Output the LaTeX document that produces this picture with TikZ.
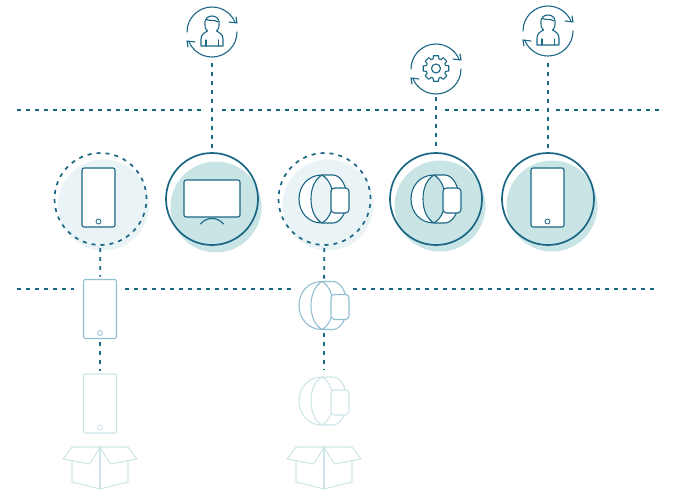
\documentclass[tikz,border=0pt]{standalone}
\usetikzlibrary{calc}
\definecolor{ink}{HTML}{1A6785}
\definecolor{discmid}{HTML}{C9E4E5}
\definecolor{disclight}{HTML}{EAF4F6}
\definecolor{fadeone}{HTML}{93BFD2}
\definecolor{fadetwo}{HTML}{CFE6E8}
\tikzset{
  dashline/.style={draw=ink,line width=1.8pt,dash pattern=on 4pt off 5pt},
  conn/.style={dashline,shorten >=3pt,shorten <=3pt},
  solidring/.style={circle,draw=ink,line width=1.7pt,minimum size=92pt,inner sep=0pt,outer sep=0pt},
  dashring/.style={solidring,line width=1.7pt,dash pattern=on 4pt off 5.03pt},
  disc/.style={circle,minimum size=91pt,inner sep=0pt,outer sep=0pt},
  phonebody/.style={rectangle,rounded corners=2pt,minimum width=33pt,minimum height=59pt,inner sep=0pt,outer sep=0pt,line width=1.1pt,fill=white},
  phonebtn/.style={circle,minimum size=5pt,inner sep=0pt,outer sep=0pt,line width=.8pt,fill=white},
  tvbody/.style={rectangle,rounded corners=2pt,minimum width=56pt,minimum height=37pt,inner sep=0pt,outer sep=0pt,line width=1.1pt,fill=white,draw=ink},
  watchanchor/.style={rectangle,minimum width=50pt,minimum height=48pt,inner sep=0pt,outer sep=0pt},
  cycleanchor/.style={circle,minimum size=50pt,inner sep=0pt,outer sep=0pt},
  thinline/.style={line width=1.1pt,line join=round,line cap=round},
}
% #1 name, #2 x, #3 y, #4 colour
\newcommand{\myphone}[4]{%
  \node[phonebody,draw=#4] (#1) at (#2,#3) {};
  \node[phonebtn,draw=#4] (#1btn) at (#2,#3+24) {};
}
% #1 name, #2 x, #3 y, #4 colour, #5 lens fill
\newcommand{\mywatch}[5]{%
  \node[watchanchor] (#1) at (#2,#3) {};
  \begin{scope}[shift={(#2,#3)},thinline,draw=#4]
    \draw[fill=white] (-2,-24) .. controls (-16,-24) and (-25,-13) .. (-25,0)
      .. controls (-25,13) and (-16,24) .. (-2,24) -- (9,24)
      .. controls (16,24) and (23,14) .. (23,0)
      .. controls (23,-14) and (16,-24) .. (9,-24) -- cycle;
    \draw[fill=#5] (-2,-24) .. controls (-9,-20) and (-13,-11) .. (-13,0)
      .. controls (-13,11) and (-9,20) .. (-2,24)
      .. controls (5,20) and (9,11) .. (9,0)
      .. controls (9,-11) and (5,-20) .. (-2,-24) -- cycle;
    \draw[fill=white,rounded corners=3.5pt] (7,-11) rectangle (25,14);
  \end{scope}
}
% #1 x, #2 colour
\newcommand{\mybox}[2]{%
  \begin{scope}[shift={(#1,0)},thinline,draw=#2]
    \draw (-28,461) -- (-28,482) -- (0,489) -- (28,482) -- (28,461);
    \draw (0,447) -- (0,489);
    \draw (0,447) -- (-28,447) -- (-37,459) -- (-10,464) -- cycle;
    \draw (0,447) -- (28,447) -- (37,459) -- (10,464) -- cycle;
  \end{scope}
}
% #1 name, #2 x, #3 y
\newcommand{\mycycle}[3]{%
  \node[cycleanchor] (#1) at (#2,#3) {};
  \begin{scope}[shift={(#2,#3)},thinline,draw=ink]
    \draw (-25,0) arc (180:338:25);
    \draw (17,-10) -- (25,-9) -- (24,-15);
    \draw (25,0) arc (0:158:25);
    \draw (-17,10) -- (-25,9) -- (-24,15);
  \end{scope}
}
% #1 x, #2 y
\newcommand{\myperson}[2]{%
  \begin{scope}[shift={(#1,#2)},thinline,draw=ink]
    \draw (-11,14) -- (-11,7) .. controls (-11,2) and (-7,0.5) .. (-4.5,-1)
      .. controls (-9,-5) and (-8.5,-16) .. (0,-16)
      .. controls (8.5,-16) and (9,-5) .. (4.5,-1)
      .. controls (7,0.5) and (11,2) .. (11,7) -- (11,14) -- cycle;
    \draw (-5.5,-12.5) .. controls (-2,-10.5) and (2,-13) .. (6,-10);
    \draw (-6,8) -- (-6,14);
    \draw (6.5,8) -- (6.5,14);
  \end{scope}
}
% #1 x, #2 y
\newcommand{\mygear}[2]{%
  \begin{scope}[shift={(#1,#2)},thinline,draw=ink]
    \draw (-13:13) \foreach \a in {0,45,...,315} { -- (\a-11:13) -- (\a+11:13) -- (\a+17:10) -- (\a+28:10)} -- cycle;
    \draw (0,0) circle (4.5);
  \end{scope}
}
\begin{document}
\begin{tikzpicture}[x=1pt,y=1pt,yscale=-1]
\useasboundingbox (0,0) rectangle (676,495);

% background discs
\node[disc,fill=disclight] (d1) at (103.5,205) {};
\node[disc,fill=discmid] (d2) at (216,207) {};
\node[disc,fill=disclight] (d3) at (328,205) {};
\node[disc,fill=discmid] (d4) at (440,206) {};
\node[disc,fill=discmid] (d5) at (552,206) {};

% rings
\node[dashring] (c1) at (100.5,199) {};
\node[solidring] (c2) at (212,199) {};
\node[dashring] (c3) at (324.5,199) {};
\node[solidring] (c4) at (436,199) {};
\node[solidring] (c5) at (548,199) {};

% devices in rings
\myphone{ph1}{98.5}{197.5}{ink}
\node[tvbody] (tv) at (212,198.5) {};
\draw[thinline,draw=ink] (200.5,224) .. controls (204,220) and (208,218.5) .. (212,218.5) .. controls (216,218.5) and (220,220) .. (223.5,224);
\mywatch{w1}{324}{199}{ink}{disclight}
\mywatch{w2}{436}{199}{ink}{discmid}
\myphone{ph2}{547.5}{197.5}{ink}

% lower devices
\myphone{ph3}{100}{309}{fadeone}
\myphone{ph4}{100}{403.5}{fadetwo}
\mywatch{w3}{324}{305.5}{fadeone}{white}
\mywatch{w4}{324}{401}{fadetwo}{white}
\mybox{100}{fadetwo}
\mybox{324}{fadetwo}

% icons above the line
\mycycle{i1}{212}{32}
\myperson{212}{32}
\mycycle{i2}{436}{69}
\mygear{436}{68.5}
\mycycle{i3}{548}{31}
\myperson{548}{31}

% horizontal dotted lines
\coordinate (a1) at (17,110.2);
\coordinate (a2) at (202,110.2);
\coordinate (a3) at (222,110.2);
\coordinate (a4) at (426,110.2);
\coordinate (a5) at (445,110.2);
\coordinate (a6) at (540,110.2);
\coordinate (a7) at (556,110.2);
\coordinate (a8) at (660,110.2);
\coordinate (b1) at (17,289);
\coordinate (b2) at (74,289);
\coordinate (b3) at (125,289);
\coordinate (b4) at (293,289);
\coordinate (b5) at (353,289);
\coordinate (b6) at (656,289);
\draw[dashline] (a1) -- (a2);
\draw[dashline] (a3) -- (a4);
\draw[dashline] (a5) -- (a6);
\draw[dashline] (a7) -- (a8);
\draw[dashline] (b1) -- (b2);
\draw[dashline] (b3) -- (b4);
\draw[dashline] (b5) -- (b6);

% vertical connectors
\draw[conn,shorten <=6pt] (i1) -- (c2);
\draw[conn] (i2) -- (c4);
\draw[conn,shorten <=7pt] (i3) -- (c5);
\draw[conn,shorten >=3pt] (c1) -- (ph3);
\draw[conn] (ph3) -- (ph4);
\draw[conn] (c3) -- (w3);
\draw[conn,shorten >=8pt] (w3) -- (w4);
\end{tikzpicture}
\end{document}
